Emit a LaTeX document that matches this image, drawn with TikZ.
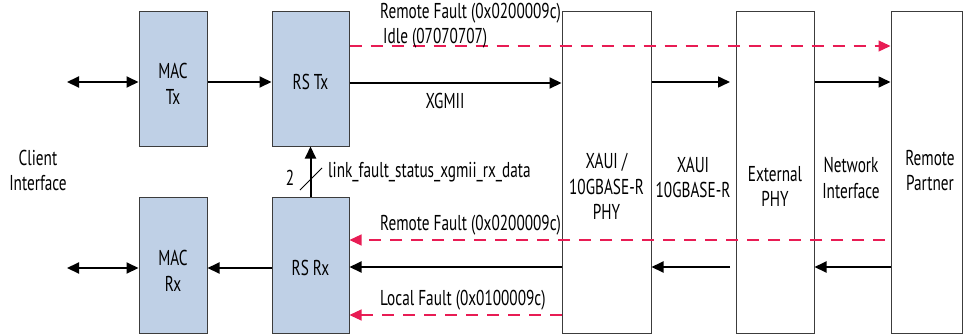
\documentclass[tikz,border=0pt]{standalone}
\usepackage{fontspec}
\setmainfont{PT Sans}[FakeStretch=0.71]
\usetikzlibrary{arrows.meta}
\definecolor{blockblue}{RGB}{191,208,230}
\definecolor{faultred}{RGB}{232,28,84}
\definecolor{edgegray}{RGB}{60,60,60}

\begin{document}
\begin{tikzpicture}[x=1pt,y=-1pt,
  every node/.style={font=\fontsize{21.5}{25.5}\selectfont,align=center},
  macblock/.style={draw=edgegray,fill=blockblue,line width=1pt,inner sep=0pt,minimum height=135pt},
  phyblock/.style={draw=edgegray,fill=white,line width=1pt,inner sep=0pt,minimum height=322pt},
  tip/.style={-{Triangle[length=12pt,width=11pt]}},
  bothtip/.style={{Triangle[length=12pt,width=11pt]}-{Triangle[length=12pt,width=11pt]}},
  dataline/.style={tip,line width=2pt},
  faultline/.style={tip,faultred,line width=1.2pt,dash pattern=on 12pt off 9pt},
  siglabel/.style={anchor=west,inner sep=0pt}]
\useasboundingbox (0,0) rectangle (963,335);
% blocks
\node[macblock,minimum width=68pt] (mactx) at (173,78.5) {};
\node[macblock,minimum width=77pt] (rstx) at (310.5,78.5) {};
\node[macblock,minimum width=68pt,minimum height=136pt] (macrx) at (173,265) {};
\node[macblock,minimum width=77pt,minimum height=136pt] (rsrx) at (310.5,265) {};
\node[phyblock,minimum width=89pt] (xaui) at (606.5,172) {};
\node[phyblock,minimum width=78pt] (extphy) at (775,172) {};
\node[phyblock,minimum width=71pt] (remote) at (926.5,172) {};
% block texts
\node (mactxtext) at (173,84) {MAC\\Tx};
\node (rstxtext) at (310.5,82) {RS Tx};
\node (macrxtext) at (173,271) {MAC\\Rx};
\node (rsrxtext) at (310.5,268) {RS Rx};
\node (xauitext) at (606.5,186.5) {XAUI /\\10GBASE-R\\PHY};
\node (exttext) at (775,186.5) {External\\PHY};
\node (remotetext) at (930,170.5) {Remote\\Partner};
\node (clienttext) at (38,170.5) {Client\\Interface};
\node (xauiif) at (693,177.5) {XAUI\\10GBASE-R};
\node (netif) at (851,178) {Network\\Interface};
% rows
\coordinate (clienttx) at (67,82);
\coordinate (clientrx) at (67,268);
\coordinate (idle) at (0,46);
\coordinate (txrow) at (0,83);
\coordinate (rfrow) at (885,240);
\coordinate (rxrow) at (0,267);
\coordinate (lfrow) at (0,315);
\coordinate (extout) at (730,82);
\coordinate (extin) at (730,267);
% transmit side
\draw[bothtip,line width=2pt] (clienttx) -- (mactx.west |- clienttx);
\draw[dataline] (mactx.east |- clienttx) -- (rstx.west |- clienttx);
\draw[dataline] (rstx.east |- txrow) -- (xaui.west |- txrow);
\draw[dataline,line width=1.5pt] (xaui.east |- extout) -- (extout);
\draw[dataline,line width=1.5pt] (extphy.east |- extout) -- (remote.west |- extout);
\draw[faultline] (rstx.east |- idle) -- (remote.west |- idle);
\node[siglabel] (rflabel) at (380,13) {Remote Fault (0x0200009c)};
\node[siglabel] (idlelabel) at (383,38) {Idle (07070707)};
\node (xgmii) at (445,101) {XGMII};
% receive side
\draw[faultline] (rfrow) -- (rsrx.east |- rfrow);
\draw[dataline] (xaui.west |- rxrow) -- (rsrx.east |- rxrow);
\draw[faultline] (xaui.west |- lfrow) -- (rsrx.east |- lfrow);
\draw[dataline] (extin) -- (xaui.east |- extin);
\draw[dataline] (remote.west |- rxrow) -- (extphy.east |- rxrow);
\draw[dataline] (rsrx.west |- clientrx) -- (macrx.east |- clientrx);
\draw[bothtip,line width=2pt] (clientrx) -- (macrx.west |- clientrx);
\node[siglabel] (rflabelrx) at (380,225) {Remote Fault (0x0200009c)};
\node[siglabel] (lflabel) at (380,300) {Local Fault (0x0100009c)};
% link fault status
\draw[dataline] (rsrx.north) -- (rstx.south);
\draw[line width=1pt] (300,190) -- (322,168);
\node (buswidth) at (290,178) {2};
\node[siglabel] (linkfault) at (328,172) {link\_fault\_status\_xgmii\_rx\_data};
\end{tikzpicture}
\end{document}
